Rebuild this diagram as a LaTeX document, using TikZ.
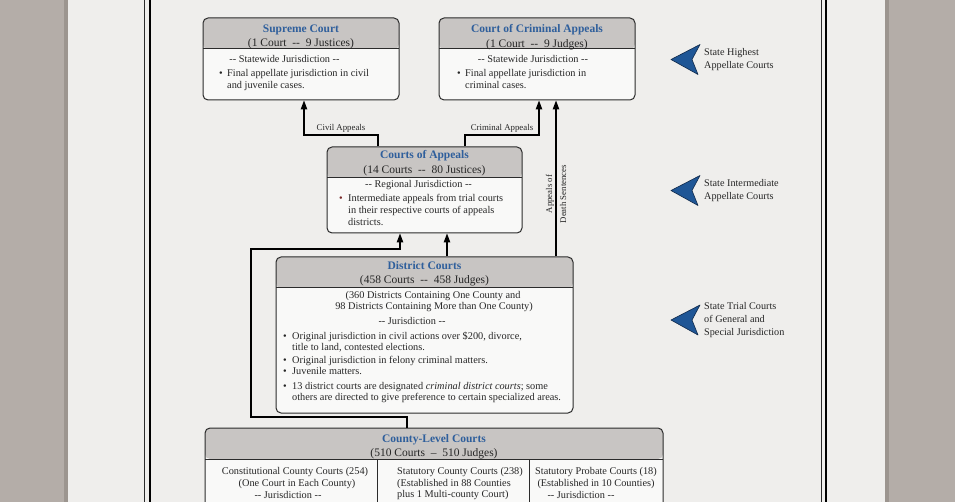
\documentclass[tikz,border=0pt]{standalone}
\usepackage{fontspec}
\setmainfont{Liberation Serif}
\usetikzlibrary{arrows.meta,positioning}

\definecolor{outergray}{HTML}{B4ADA8}
\definecolor{pageedge}{HTML}{9C958F}
\definecolor{pagefill}{HTML}{EFEEEC}
\definecolor{headfill}{HTML}{C8C5C3}
\definecolor{bodyfill}{HTML}{F9F9F8}
\definecolor{boxline}{HTML}{2B2B2B}
\definecolor{titleblue}{HTML}{2F5F9C}
\definecolor{arrowblue}{HTML}{1F5696}
\definecolor{arrowedge}{HTML}{10294A}
\definecolor{inktext}{HTML}{262626}
\definecolor{bulletred}{HTML}{7A2A2A}

\newcommand{\blt}{\makebox[8pt][l]{\textbullet}}

\begin{document}
\begin{tikzpicture}[x=1pt, y=-1pt, >={Triangle[length=9pt,width=6.5pt]}, every node/.style={text=inktext}]
    \tikzstyle{court} = [rectangle, rounded corners=5pt, draw=boxline, line width=1pt, fill=bodyfill, inner sep=0pt,
        path picture={\fill[headfill] (path picture bounding box.north west) rectangle ([yshift=-31pt]path picture bounding box.north east);
            \draw[boxline, line width=1pt] ([yshift=-31pt]path picture bounding box.north west) -- ([yshift=-31pt]path picture bounding box.north east);}]
    \tikzstyle{headtext} = [align=center, inner sep=0pt, font=\fontsize{11.5}{14.5}\selectfont]
    \tikzstyle{jurtext} = [anchor=base, inner sep=0pt, font=\fontsize{10.3}{11}\selectfont]
    \tikzstyle{itemline} = [anchor=base west, inner sep=0pt, font=\fontsize{10.3}{11}\selectfont]
    \tikzstyle{linklabel} = [inner sep=2.5pt, font=\fontsize{8.8}{10}\selectfont]
    \tikzstyle{sidelabel} = [anchor=west, align=left, inner sep=0pt, font=\fontsize{10.2}{13}\selectfont]
    \tikzstyle{conn} = [draw=black, line width=1.1pt, ->]
    \tikzstyle{chevron} = [fill=arrowblue, draw=arrowedge, line width=0.6pt, line join=round]

    \useasboundingbox (0,0) rectangle (955,502);

    % Page and margins
    \fill[outergray] (0,0) rectangle (955,502);
    \fill[pageedge] (64,0) rectangle (889,502);
    \fill[pagefill] (68,0) rectangle (885,502);
    \draw[boxline, line width=0.8pt] (144,0) -- (144,502);
    \draw[black, line width=1.3pt] (150,0) -- (150,502);
    \draw[boxline, line width=0.8pt] (821,0) -- (821,502);
    \draw[black, line width=1.3pt] (826,0) -- (826,502);

    % Court boxes
    \node [court, minimum width=196pt, minimum height=82pt] (supreme) at (301,59) {};
    \node [court, minimum width=196pt, minimum height=82pt] (criminal) at (537,59) {};
    \node [court, minimum width=195pt, minimum height=86pt] (appeals) at (424.5,190) {};
    \node [court, minimum width=297pt, minimum height=156pt] (district) at (424.5,335) {};
    \node [court, minimum width=458pt, minimum height=130pt] (county) at (434,493) {};
    \draw [boxline, line width=1pt] (county.north west) ++(173,32) -- ++(0,120);
    \draw [boxline, line width=1pt] (county.north west) ++(325,32) -- ++(0,120);

    % Headers
    \node [headtext] (supreme-head) at ([yshift=-19.5pt]supreme.north) {\textcolor{titleblue}{\textbf{Supreme Court}}\\(1 Court~~-{}-~~9 Justices)};
    \node [headtext] (criminal-head) at ([yshift=-19.5pt]criminal.north) {\textcolor{titleblue}{\textbf{Court of Criminal Appeals}}\\(1 Court~~-{}-~~9 Judges)};
    \node [headtext] (appeals-head) at ([yshift=-16.5pt]appeals.north) {\textcolor{titleblue}{\textbf{Courts of Appeals}}\\(14 Courts~~-{}-~~80 Justices)};
    \node [headtext] (district-head) at ([yshift=-17.5pt]district.north) {\textcolor{titleblue}{\textbf{District Courts}}\\(458 Courts~~-{}-~~458 Judges)};
    \node [headtext] (county-head) at ([yshift=-19pt]county.north) {\textcolor{titleblue}{\textbf{County-Level Courts}}\\(510 Courts~~--~~510 Judges)};

    % Supreme Court body
    \node [jurtext] (supreme-jur) at (284.5,63) {-{}- Statewide Jurisdiction -{}-};
    \node [itemline] (supreme-b1) at (219,77) {\blt Final appellate jurisdiction in civil};
    \node [itemline] (supreme-b1b) at (227,89) {and juvenile cases.};

    % Court of Criminal Appeals body
    \node [jurtext] (criminal-jur) at (533,63) {-{}- Statewide Jurisdiction -{}-};
    \node [itemline] (criminal-b1) at (457,77) {\blt Final appellate jurisdiction in};
    \node [itemline] (criminal-b1b) at (465,89) {criminal cases.};

    % Courts of Appeals body
    \node [jurtext] (appeals-jur) at (418.5,188) {-{}- Regional Jurisdiction -{}-};
    \node [itemline] (appeals-b1) at (339,202) {\makebox[9pt][l]{\textcolor{bulletred}{\textbullet}}Intermediate appeals from trial courts};
    \node [itemline] (appeals-b1b) at (348,214) {in their respective courts of appeals};
    \node [itemline] (appeals-b1c) at (348,226) {districts.};

    % District Courts body
    \node [jurtext] (district-n1) at (433,299) {(360 Districts Containing One County and};
    \node [jurtext] (district-n2) at (434,309) {98 Districts Containing More than One County)};
    \node [jurtext] (district-jur) at (412,324) {-{}- Jurisdiction -{}-};
    \node [itemline] (district-b1) at (283,340) {\makebox[9pt][l]{\textbullet}Original jurisdiction in civil actions over \$200, divorce,};
    \node [itemline] (district-b1b) at (292,350) {title to land, contested elections.};
    \node [itemline] (district-b2) at (283,363) {\makebox[9pt][l]{\textbullet}Original jurisdiction in felony criminal matters.};
    \node [itemline] (district-b3) at (283,374) {\makebox[9pt][l]{\textbullet}Juvenile matters.};
    \node [itemline] (district-b4) at (283,389) {\makebox[9pt][l]{\textbullet}13 district courts are designated \textit{criminal district courts}; some};
    \node [itemline] (district-b4b) at (292,400) {others are directed to give preference to certain specialized areas.};

    % County-Level Courts columns
    \node [jurtext] (const-t) at (295,474) {Constitutional County Courts (254)};
    \node [jurtext] (const-n) at (297,486) {(One Court in Each County)};
    \node [jurtext] (const-jur) at (288,498.5) {-{}- Jurisdiction -{}-};
    \node [itemline] (stat-t) at (397,474) {Statutory County Courts (238)};
    \node [itemline] (stat-n1) at (397,486) {(Established in 88 Counties};
    \node [itemline] (stat-n2) at (397,497) {plus 1 Multi-county Court)};
    \node [jurtext] (prob-t) at (596,474) {Statutory Probate Courts (18)};
    \node [jurtext] (prob-n) at (596,486) {(Established in 10 Counties)};
    \node [jurtext] (prob-jur) at (581,498.5) {-{}- Jurisdiction -{}-};

    % Connections showing appeals
    \coordinate (civilfoot) at ([xshift=-46.5pt]appeals.north);
    \coordinate (civilbend) at (304,135);
    \coordinate (crimfoot) at ([xshift=40.5pt]appeals.north);
    \coordinate (crimbend) at (539,135);
    \coordinate (deathfoot) at ([xshift=131.5pt]district.north);
    \coordinate (distfoot) at ([xshift=22.5pt]district.north);
    \coordinate (countyfoot) at ([xshift=-27pt]county.north);
    \coordinate (countybend) at (251,417);
    \coordinate (countyturn) at (251,249);
    \coordinate (countyhead) at ([xshift=-24.5pt]appeals.south);

    \draw [conn] (civilfoot) |- (civilbend) node [linklabel, pos=0.75, above] (civil-label) {Civil Appeals} -- (civilbend |- supreme.south);
    \draw [conn] (crimfoot) |- (crimbend) node [linklabel, pos=0.75, above] (crim-label) {Criminal Appeals} -- (crimbend |- criminal.south);
    \draw [conn] (deathfoot) -- (deathfoot |- criminal.south) node [pos=0.4, rotate=90, align=center, inner sep=0pt, font=\fontsize{8.8}{14}\selectfont] (death-label) {Appeals of\\Death Sentences};
    \draw [conn] (distfoot) -- (distfoot |- appeals.south);
    \draw [conn] (countyfoot) |- (countybend) -- (countyturn) -| (countyhead);

    % Level labels
    \node [sidelabel] (highest) at (704,59.5) {State Highest\\Appellate Courts};
    \node [sidelabel] (intermediate) at (704,190.5) {State Intermediate\\Appellate Courts};
    \node [sidelabel] (trial) at (704,320) {State Trial Courts\\of General and\\Special Jurisdiction};
    \filldraw [chevron, shift={(highest.west)}] (-33,0) -- (-4,-15) -- (-12,0) -- (-6,15) -- cycle;
    \filldraw [chevron, shift={(intermediate.west)}] (-33,0) -- (-4,-15) -- (-12,0) -- (-6,15) -- cycle;
    \filldraw [chevron, shift={(trial.west)}] (-33,0) -- (-4,-15) -- (-12,0) -- (-6,15) -- cycle;
\end{tikzpicture}
\end{document}
